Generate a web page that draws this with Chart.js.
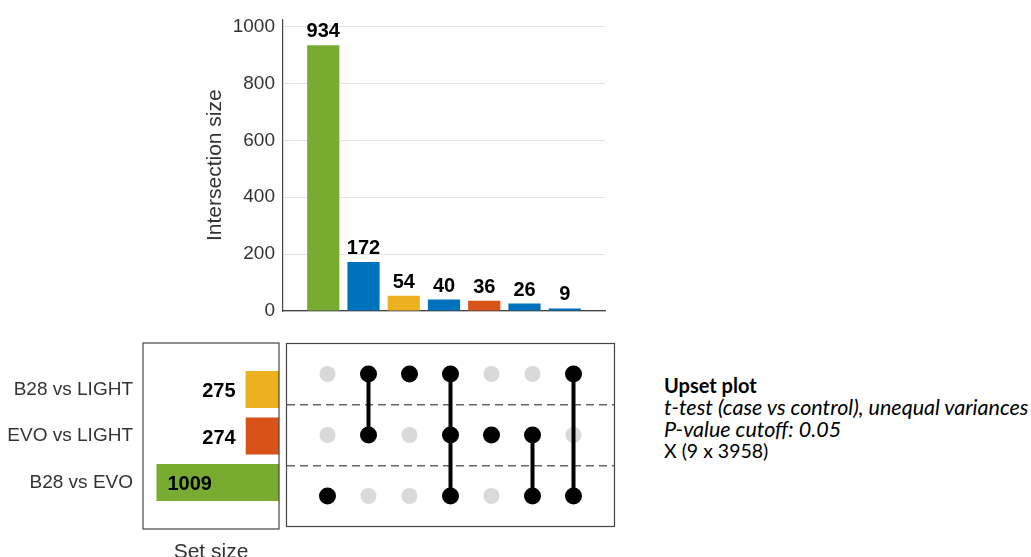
<!DOCTYPE html>
<html>
<head>
<meta charset="utf-8">
<script src="https://cdn.jsdelivr.net/npm/chart.js@4.4.1/dist/chart.umd.min.js"></script>
<style>
  body { margin: 0; background: #fff; overflow: hidden; width: 1031px; height: 557px; position: relative; }
  canvas { position: absolute; }
  #note { position: absolute; left: 664px; top: 375px; font-family: Lato, 'Open Sans', sans-serif; line-height: 20px; color: #000; white-space: nowrap; }
  #note .head { font-weight: bold; font-size: 20px; }
  #note .it { font-style: italic; font-size: 21.5px; }
  #note .plain { font-size: 19.5px; }
</style>
</head>
<body>
<canvas id="interChart" width="440" height="340" style="left:190px;top:0"></canvas>
<canvas id="setChart" width="283" height="240" style="left:0;top:335px"></canvas>
<canvas id="matrixChart" width="345" height="200" style="left:278px;top:335px"></canvas>
<div id="note">
  <span class="head">Upset plot</span><br>
  <span class="it">t-test (case vs control), unequal variances</span><br>
  <span class="it">P-value cutoff: 0.05</span><br>
  <span class="plain">X (9 x 3958)</span>
</div>
<script>
// data
const setNames = ['B28 vs LIGHT', 'EVO vs LIGHT', 'B28 vs EVO'];
const setSizes = [275, 274, 1009];
const setColors = ['#EDB120', '#D95319', '#77AC30'];

const interSizes = [934, 172, 54, 40, 36, 26, 9];
const interColors = ['#77AC30', '#0072BD', '#EDB120', '#0072BD', '#D95319', '#0072BD', '#0072BD'];
// which sets (index into setNames) each intersection column contains
const interMembers = [[2], [0, 1], [0], [0, 1, 2], [1], [1, 2], [0, 2]];

const yTicks = [0, 200, 400, 600, 800, 1000];

Chart.defaults.font.family = "'Liberation Sans', Arial, sans-serif";
Chart.defaults.color = '#333';
Chart.defaults.animation = false;
Chart.defaults.plugins.legend.display = false;
Chart.defaults.plugins.tooltip.enabled = false;

const axisColor = '#444';

const boxPlugin = {
    id: 'box',
    afterDraw(chart) {
        const { ctx, chartArea: a } = chart;
        ctx.save();
        ctx.strokeStyle = axisColor;
        ctx.lineWidth = 1.2;
        ctx.strokeRect(a.left, a.top, a.right - a.left, a.bottom - a.top);
        ctx.restore();
    }
};

// top: intersection sizes
new Chart(document.getElementById('interChart'), {
    type: 'bar',
    data: {
        datasets: [{
            data: interSizes.map((v, i) => ({ x: i + 1, y: v })),
            backgroundColor: interColors,
            categoryPercentage: 1,
            barPercentage: 0.8
        }]
    },
    options: {
        responsive: false,
        layout: { padding: { left: 0, right: 25, top: 17, bottom: 0 } },
        scales: {
            x: {
                type: 'linear', min: 0, max: 8, offset: false,
                grid: { display: false },
                ticks: { display: false },
                border: { color: axisColor, width: 1.2 },
                afterFit: s => { s.height = 29; }
            },
            y: {
                min: 0, max: 1025,
                afterBuildTicks: s => { s.ticks = yTicks.map(v => ({ value: v })); },
                grid: { color: '#e3e3e3', drawTicks: false },
                border: { color: axisColor, width: 1.2 },
                ticks: { padding: 8, font: { size: 19 }, color: '#333', callback: v => String(v) },
                title: { display: true, text: 'Intersection size', font: { size: 21 }, color: '#333', padding: { top: 13 } },
                afterFit: s => { s.width = 93; }
            }
        }
    },
    plugins: [{
        id: 'barLabels',
        afterDatasetsDraw(chart) {
            const { ctx } = chart;
            ctx.save();
            ctx.font = "bold 20px 'Liberation Sans', Arial, sans-serif";
            ctx.fillStyle = '#000';
            ctx.textAlign = 'center';
            ctx.textBaseline = 'alphabetic';
            chart.getDatasetMeta(0).data.forEach((bar, i) => {
                ctx.fillText(interSizes[i], bar.x, bar.y - 8);
            });
            ctx.restore();
        }
    }]
});

// left: set sizes
new Chart(document.getElementById('setChart'), {
    type: 'bar',
    data: {
        datasets: [{
            data: setSizes.map((v, i) => ({ x: v, y: i + 1 })),
            backgroundColor: setColors,
            categoryPercentage: 1,
            barPercentage: 0.8
        }]
    },
    options: {
        responsive: false,
        indexAxis: 'y',
        layout: { padding: { left: 0, right: 4, top: 8, bottom: 0 } },
        scales: {
            x: {
                type: 'linear', min: 0, max: 1120, reverse: true,
                grid: { display: false },
                ticks: { display: false },
                border: { display: false },
                title: { display: true, text: 'Set size', font: { size: 21 }, color: '#333', padding: { bottom: 10 } },
                afterFit: s => { s.height = 46; }
            },
            y: {
                type: 'linear', min: 0, max: 4, reverse: true, offset: false,
                afterBuildTicks: s => { s.ticks = setNames.map((n, i) => ({ value: i + 1 })); },
                grid: { display: false, drawTicks: false },
                border: { display: false },
                ticks: { padding: 10, font: { size: 19 }, color: '#333', callback: v => setNames[v - 1] },
                afterFit: s => { s.width = 143; s.paddingTop = 0; s.paddingBottom = 0; }
            }
        }
    },
    plugins: [boxPlugin, {
        id: 'setLabels',
        afterDatasetsDraw(chart) {
            const { ctx, chartArea } = chart;
            ctx.save();
            ctx.font = "bold 20px 'Liberation Sans', Arial, sans-serif";
            ctx.fillStyle = '#000';
            ctx.textBaseline = 'middle';
            chart.getDatasetMeta(0).data.forEach((bar, i) => {
                const txt = String(setSizes[i]);
                const w = ctx.measureText(txt).width;
                if (bar.x - chartArea.left > w + 16) {
                    ctx.textAlign = 'right';
                    ctx.fillText(txt, bar.x - 10, bar.y + 2);
                } else {
                    ctx.textAlign = 'left';
                    ctx.fillText(txt, bar.x + 11, bar.y + 2);
                }
            });
            ctx.restore();
        }
    }]
});

// bottom: membership matrix
const greyDots = [];
const blackDots = [];
const links = [];
interMembers.forEach((members, c) => {
    setNames.forEach((n, r) => {
        greyDots.push({ x: c + 1, y: r + 0.5 });
    });
    members.forEach(r => blackDots.push({ x: c + 1, y: r + 0.5 }));
    if (members.length > 1) {
        links.push({
            type: 'scatter',
            data: [
                { x: c + 1, y: Math.min(...members) + 0.5 },
                { x: c + 1, y: Math.max(...members) + 0.5 }
            ],
            showLine: true,
            borderColor: '#000',
            borderWidth: 4,
            pointRadius: 0,
            order: 1
        });
    }
});

new Chart(document.getElementById('matrixChart'), {
    type: 'scatter',
    data: {
        datasets: [
            { data: blackDots, backgroundColor: '#000', pointRadius: 8.5, borderWidth: 0, order: 0 },
            ...links,
            { data: greyDots, backgroundColor: '#d9d9d9', pointRadius: 8, borderWidth: 0, order: 2 }
        ]
    },
    options: {
        responsive: false,
        layout: { padding: { left: 5, right: 8, top: 8, bottom: 7 } },
        scales: {
            x: { type: 'linear', min: 0, max: 8, display: false },
            y: {
                type: 'linear', min: 0, max: 3, reverse: true,
                afterBuildTicks: s => { s.ticks = [1, 2].map(v => ({ value: v })); },
                grid: { color: '#666', lineWidth: 1.5, drawTicks: false },
                border: { display: false, dash: [8, 5] },
                ticks: { display: false },
                afterFit: s => { s.width = 0; }
            }
        }
    },
    plugins: [boxPlugin]
});
</script>
</body>
</html>
